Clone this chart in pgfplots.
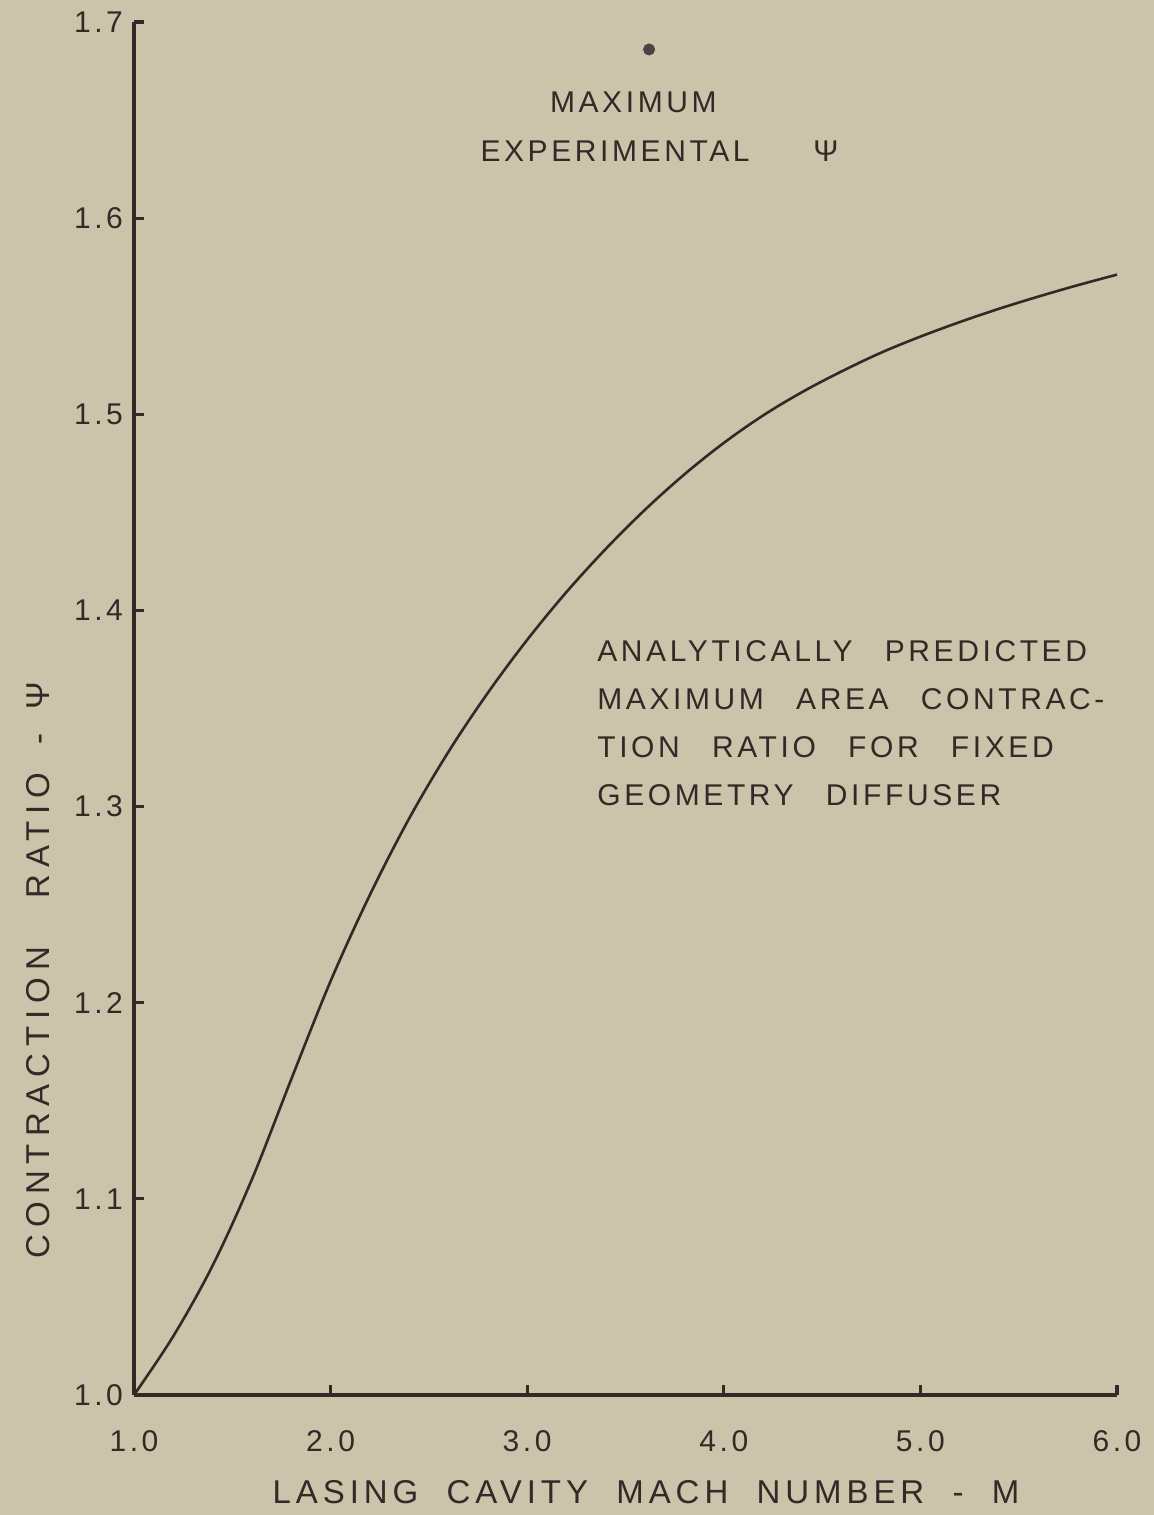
\documentclass[border=0pt]{standalone}
\usepackage{fontspec}
\setmainfont{Liberation Sans}[LetterSpace=12,WordSpace=2.7]
\newfontfamily\ylabfont{Liberation Sans}[LetterSpace=21,WordSpace=3]
\newfontfamily\xlabfont{Liberation Sans}[LetterSpace=15,WordSpace=2.0]
\usepackage{pgfplots}
\pgfplotsset{compat=1.18}
\definecolor{paper}{RGB}{201,196,170}
\definecolor{ink}{RGB}{55,40,40}
\newcommand\lf{\fontsize{15}{24}\selectfont}
\newcommand\bigf{\fontsize{16.5}{24}\selectfont}
\begin{document}
\begin{tikzpicture}
\fill[paper] (-67pt,-60pt) rectangle (510pt,697.5pt);
\useasboundingbox (-67pt,-60pt) rectangle (510pt,697.5pt);
\begin{axis}[at={(0,0)},anchor=south west, scale only axis,
  width=491.5pt, height=686.5pt,
  xmin=1, xmax=6, ymin=1, ymax=1.7,
  axis lines=left, axis line style={-, ink, line width=1.6pt},
  tick align=inside, major tick length=5pt, tick style={ink, line width=1.6pt},
  xtick={1,2,3,4,5,6}, xticklabels={1.0,2.0,3.0,4.0,5.0,6.0},
  ytick={1.0,1.1,1.2,1.3,1.4,1.5,1.6,1.7},
  yticklabels={1.0,1.1,1.2,1.3,1.4,1.5,1.6,1.7},
  tick label style={font=\lf, text=ink},
  xticklabel style={yshift=-14pt}, yticklabel style={xshift=-2pt},
  clip=false, /pgf/number format/assume math mode=true]
\addplot[ink, line width=1.3pt, smooth, tension=0.55] coordinates {
(1.0,1.000) (1.2,1.030) (1.4,1.066) (1.6,1.110) (1.8,1.161) (2.0,1.211)
(2.2,1.255) (2.4,1.294) (2.6,1.328) (2.8,1.358) (3.0,1.385) (3.2,1.4094)
(3.4,1.4314) (3.6,1.4514) (3.8,1.4694) (4.0,1.4854) (4.2,1.4994) (4.4,1.5114)
(4.6,1.5219) (4.8,1.5314) (5.0,1.5396) (5.2,1.5470) (5.4,1.5538)
(5.6,1.5600) (5.8,1.5658) (6.0,1.5712)};
\addplot[only marks, mark=*, mark size=2.8pt, color=ink!70!gray] coordinates {(3.62,1.686)};
\node[font=\lf, text=ink] at (axis cs:3.54,1.6589) {MAXIMUM};
\node[font=\lf, text=ink] at (axis cs:3.447,1.634) {EXPERIMENTAL};
\node[font=\lf, text=ink] at (axis cs:4.52,1.634) {Ψ};
\node[font=\lf, text=ink, align=left, anchor=north west, inner sep=0pt] at (axis cs:3.355,1.385)
 {ANALYTICALLY PREDICTED\\MAXIMUM AREA CONTRAC-\\TION RATIO FOR FIXED\\GEOMETRY DIFFUSER};
\node[font=\ylabfont\bigf, text=ink, rotate=90] at (axis cs:0.512,1.2167)
 {CONTRACTION RATIO\hspace{14pt}-\hspace{12pt}Ψ};
\node[font=\xlabfont\bigf, text=ink] at (axis cs:3.604,0.9505) {LASING CAVITY MACH NUMBER - M};
\end{axis}
\end{tikzpicture}
\end{document}
